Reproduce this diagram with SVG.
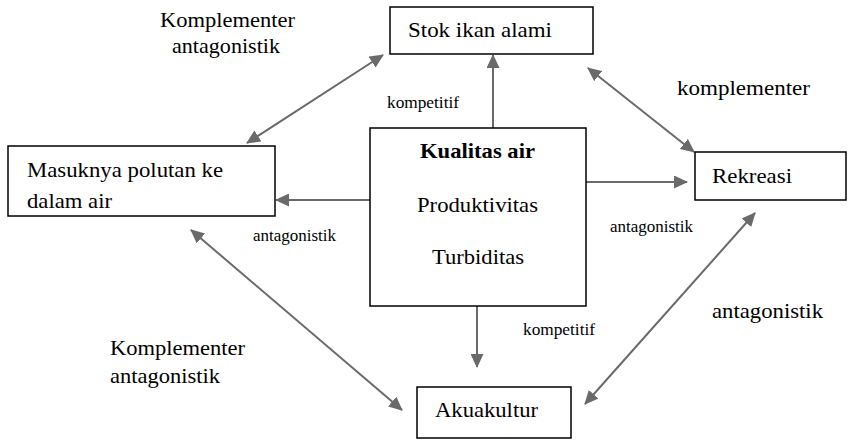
<svg xmlns="http://www.w3.org/2000/svg" width="848" height="441" viewBox="0 0 848 441">
<style>
.box{fill:#fff;stroke:#000;stroke-width:1.5}
.t{font-family:"Liberation Serif","DejaVu Serif",serif;font-size:22px;fill:#000}
.s{font-family:"Liberation Serif","DejaVu Serif",serif;font-size:17px;fill:#000}
.b{font-weight:bold}
.c{fill:none;stroke:#6a6a6a;stroke-width:2}
</style>
<defs>
<marker id="ah" viewBox="0 0 14 13" refX="13" refY="6.5" markerWidth="14" markerHeight="13" markerUnits="userSpaceOnUse" orient="auto-start-reverse">
<path d="M0,0 L14,6.5 L0,13 z" fill="#6a6a6a"/>
</marker>
</defs>
<g id="connectors">
<line class="c" x1="493" y1="128" x2="493" y2="55" marker-end="url(#ah)"/>
<line class="c" x1="370" y1="200" x2="276" y2="200" marker-end="url(#ah)"/>
<line class="c" x1="586" y1="182" x2="687" y2="182" marker-end="url(#ah)"/>
<line class="c" x1="477" y1="306" x2="477" y2="367" marker-end="url(#ah)"/>
<line class="c" x1="247" y1="143" x2="383" y2="55" marker-start="url(#ah)" marker-end="url(#ah)"/>
<line class="c" x1="588" y1="68" x2="694" y2="152" marker-start="url(#ah)" marker-end="url(#ah)"/>
<line class="c" x1="191" y1="230" x2="402" y2="410" marker-start="url(#ah)" marker-end="url(#ah)"/>
<line class="c" x1="585" y1="404" x2="755" y2="213" marker-start="url(#ah)" marker-end="url(#ah)"/>
</g>
<g id="stok">
<rect class="box" x="390" y="7" width="203" height="47"/>
<text class="t" x="408" y="37" textLength="144" lengthAdjust="spacingAndGlyphs">Stok ikan alami</text>
</g>
<g id="kualitas">
<rect class="box" x="370" y="128" width="216" height="178"/>
<text class="t b" x="420" y="158" textLength="115" lengthAdjust="spacingAndGlyphs">Kualitas air</text>
<text class="t" x="417" y="212" textLength="121" lengthAdjust="spacingAndGlyphs">Produktivitas</text>
<text class="t" x="432" y="264" textLength="92" lengthAdjust="spacingAndGlyphs">Turbiditas</text>
</g>
<g id="masuknya">
<rect class="box" x="8" y="146" width="267" height="70"/>
<text class="t" x="27" y="177" textLength="196" lengthAdjust="spacingAndGlyphs">Masuknya polutan ke</text>
<text class="t" x="27" y="208" textLength="85" lengthAdjust="spacingAndGlyphs">dalam air</text>
</g>
<g id="rekreasi">
<rect class="box" x="695" y="152" width="151" height="48"/>
<text class="t" x="712" y="183" textLength="80" lengthAdjust="spacingAndGlyphs">Rekreasi</text>
</g>
<g id="akuakultur">
<rect class="box" x="417" y="387" width="154" height="51"/>
<text class="t" x="435" y="417" textLength="103" lengthAdjust="spacingAndGlyphs">Akuakultur</text>
</g>
<g id="labels">
<text class="t" x="160" y="27" textLength="135" lengthAdjust="spacingAndGlyphs">Komplementer</text>
<text class="t" x="172" y="53" textLength="108" lengthAdjust="spacingAndGlyphs">antagonistik</text>
<text class="t" x="677" y="95" textLength="133" lengthAdjust="spacingAndGlyphs">komplementer</text>
<text class="t" x="110" y="355" textLength="135" lengthAdjust="spacingAndGlyphs">Komplementer</text>
<text class="t" x="110" y="383" textLength="110" lengthAdjust="spacingAndGlyphs">antagonistik</text>
<text class="t" x="712" y="318" textLength="111" lengthAdjust="spacingAndGlyphs">antagonistik</text>
<text class="s" x="387" y="108" textLength="72" lengthAdjust="spacingAndGlyphs">kompetitif</text>
<text class="s" x="253" y="241" textLength="83" lengthAdjust="spacingAndGlyphs">antagonistik</text>
<text class="s" x="610" y="232" textLength="83" lengthAdjust="spacingAndGlyphs">antagonistik</text>
<text class="s" x="523" y="335" textLength="72" lengthAdjust="spacingAndGlyphs">kompetitif</text>
</g>
</svg>
